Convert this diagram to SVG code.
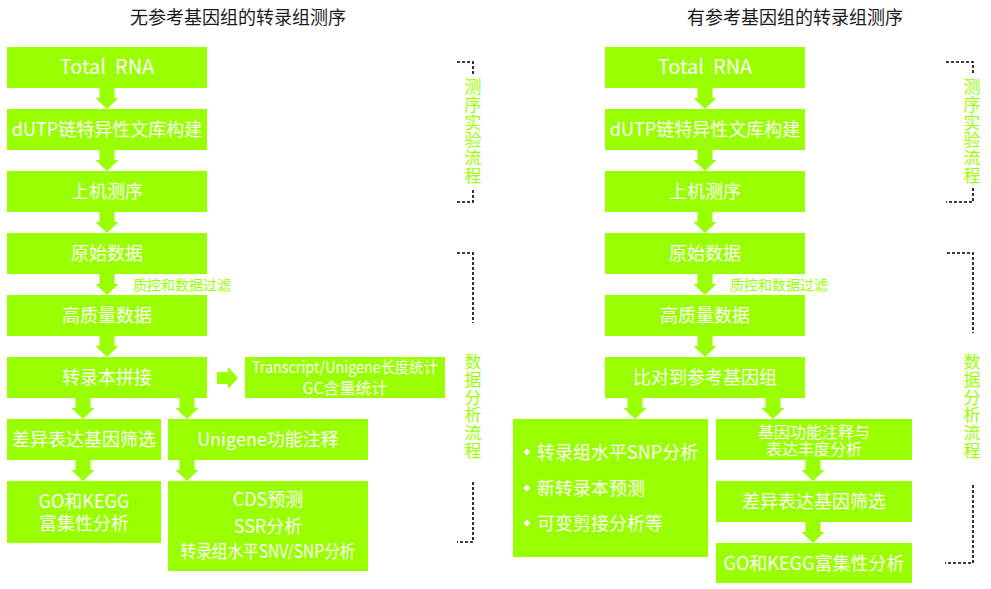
<svg xmlns="http://www.w3.org/2000/svg" width="991" height="589" viewBox="0 0 991 589">
<defs>
<style>
text{font-family:"Noto Sans CJK SC","Noto Sans",sans-serif;}
.box{fill:#99ff00;}
.t{fill:#ffffff;font-size:18px;text-anchor:middle;}
.ts{fill:#ffffff;font-size:16px;text-anchor:middle;}
.tl{fill:#ffffff;font-size:18px;}
.title{fill:#1a1a1a;font-size:18px;text-anchor:middle;}
.lab{fill:#99ff00;font-size:14px;}
.vt{fill:#99ff00;font-size:17px;writing-mode:vertical-rl;letter-spacing:0.8px;}
.br{fill:none;stroke:#000;stroke-width:1.6;stroke-dasharray:3 2;}
.ar{fill:#99ff00;}
</style>
<path id="ad" d="M-7.5 0H7.5V10H11.5L0 21L-11.5 10H-7.5Z"/>
</defs>

<text class="title" x="238" y="24">无参考基因组的转录组测序</text>
<text class="title" x="795" y="24">有参考基因组的转录组测序</text>

<g id="connectors">
<use href="#ad" class="ar" x="107" y="88"/>
<use href="#ad" class="ar" x="107" y="150"/>
<use href="#ad" class="ar" x="107" y="212"/>
<use href="#ad" class="ar" x="107" y="274"/>
<use href="#ad" class="ar" x="107" y="336"/>
<use href="#ad" class="ar" x="83" y="398"/>
<use href="#ad" class="ar" x="187" y="398"/>
<use href="#ad" class="ar" x="83" y="460"/>
<use href="#ad" class="ar" x="187" y="460"/>
<path class="ar" d="M217 372H228V367L238 378L228 389V384H217Z"/>
<use href="#ad" class="ar" x="705" y="88"/>
<use href="#ad" class="ar" x="705" y="150"/>
<use href="#ad" class="ar" x="705" y="212"/>
<use href="#ad" class="ar" x="705" y="274"/>
<use href="#ad" class="ar" x="705" y="336"/>
<use href="#ad" class="ar" x="635" y="398"/>
<use href="#ad" class="ar" x="773" y="398"/>
<use href="#ad" class="ar" x="813" y="460"/>
<use href="#ad" class="ar" x="813" y="522"/>
<text class="lab" x="133" y="290">质控和数据过滤</text>
<text class="lab" x="730" y="290">质控和数据过滤</text>
</g>

<g id="L1"><rect class="box" x="7" y="47" width="200" height="41"/><text class="t" x="107" y="74" xml:space="preserve" style="font-size:20px">Total  RNA</text></g>
<g id="L2"><rect class="box" x="7" y="109" width="200" height="41"/><text class="t" x="107" y="136">dUTP链特异性文库构建</text></g>
<g id="L3"><rect class="box" x="7" y="171" width="200" height="41"/><text class="t" x="107" y="198">上机测序</text></g>
<g id="L4"><rect class="box" x="7" y="233" width="200" height="41"/><text class="t" x="107" y="260">原始数据</text></g>
<g id="L5"><rect class="box" x="7" y="295" width="200" height="41"/><text class="t" x="107" y="322">高质量数据</text></g>
<g id="L6"><rect class="box" x="7" y="357" width="200" height="41"/><text class="t" x="107" y="384">转录本拼接</text></g>
<g id="L7"><rect class="box" x="245" y="357" width="200" height="41"/><text class="ts"><tspan x="345" y="373" textLength="186" lengthAdjust="spacingAndGlyphs">Transcript/Unigene长度统计</tspan><tspan x="345" y="394">GC含量统计</tspan></text></g>
<g id="L8"><rect class="box" x="7" y="419" width="154" height="41"/><text class="t" x="84" y="446">差异表达基因筛选</text></g>
<g id="L9"><rect class="box" x="168" y="419" width="200" height="41"/><text class="t" x="268" y="446">Unigene功能注释</text></g>
<g id="L10"><rect class="box" x="7" y="481" width="154" height="62"/><text class="t"><tspan x="84" y="508">GO和KEGG</tspan><tspan x="84" y="530">富集性分析</tspan></text></g>
<g id="L11"><rect class="box" x="168" y="481" width="200" height="90"/><text class="t"><tspan x="268" y="506">CDS预测</tspan><tspan x="268" y="533">SSR分析</tspan><tspan x="268" y="558" textLength="175" lengthAdjust="spacingAndGlyphs">转录组水平SNV/SNP分析</tspan></text></g>

<g id="R1"><rect class="box" x="605" y="47" width="200" height="41"/><text class="t" x="705" y="74" xml:space="preserve" style="font-size:20px">Total  RNA</text></g>
<g id="R2"><rect class="box" x="605" y="109" width="200" height="41"/><text class="t" x="705" y="136">dUTP链特异性文库构建</text></g>
<g id="R3"><rect class="box" x="605" y="171" width="200" height="41"/><text class="t" x="705" y="198">上机测序</text></g>
<g id="R4"><rect class="box" x="605" y="233" width="200" height="41"/><text class="t" x="705" y="260">原始数据</text></g>
<g id="R5"><rect class="box" x="605" y="295" width="200" height="41"/><text class="t" x="705" y="322">高质量数据</text></g>
<g id="R6"><rect class="box" x="605" y="357" width="200" height="41"/><text class="t" x="705" y="384">比对到参考基因组</text></g>
<g id="R7"><rect class="box" x="513" y="419" width="195" height="138"/>
<path fill="#fff" d="M527 448.5L530.5 452L527 455.5L523.5 452Z M527 484.5L530.5 488L527 491.5L523.5 488Z M527 519.5L530.5 523L527 526.5L523.5 523Z"/>
<text class="tl"><tspan x="537" y="458.5">转录组水平SNP分析</tspan><tspan x="537" y="494.5">新转录本预测</tspan><tspan x="537" y="529.5">可变剪接分析等</tspan></text></g>
<g id="R8"><rect class="box" x="716" y="419" width="196" height="41"/><text class="ts"><tspan x="814" y="438">基因功能注释与</tspan><tspan x="814" y="455">表达丰度分析</tspan></text></g>
<g id="R9"><rect class="box" x="716" y="481" width="196" height="41"/><text class="t" x="814" y="508">差异表达基因筛选</text></g>
<g id="R10"><rect class="box" x="716" y="543" width="196" height="40"/><text class="t" x="814" y="570">GO和KEGG富集性分析</text></g>

<g id="bracketL1"><path class="br" d="M457 62H473V74M473 190V202H457"/>
<text class="vt" x="473" y="78">测序实验流程</text></g>
<g id="bracketL2"><path class="br" d="M457 253H473V323M473 482V542H457"/>
<text class="vt" x="473" y="353">数据分析流程</text></g>
<g id="bracketR1"><path class="br" d="M946 62H973V74M973 188V202H946"/>
<text class="vt" x="972" y="78">测序实验流程</text></g>
<g id="bracketR2"><path class="br" d="M947 253H973V333M973 485V563H945"/>
<text class="vt" x="972" y="353">数据分析流程</text></g>
</svg>
